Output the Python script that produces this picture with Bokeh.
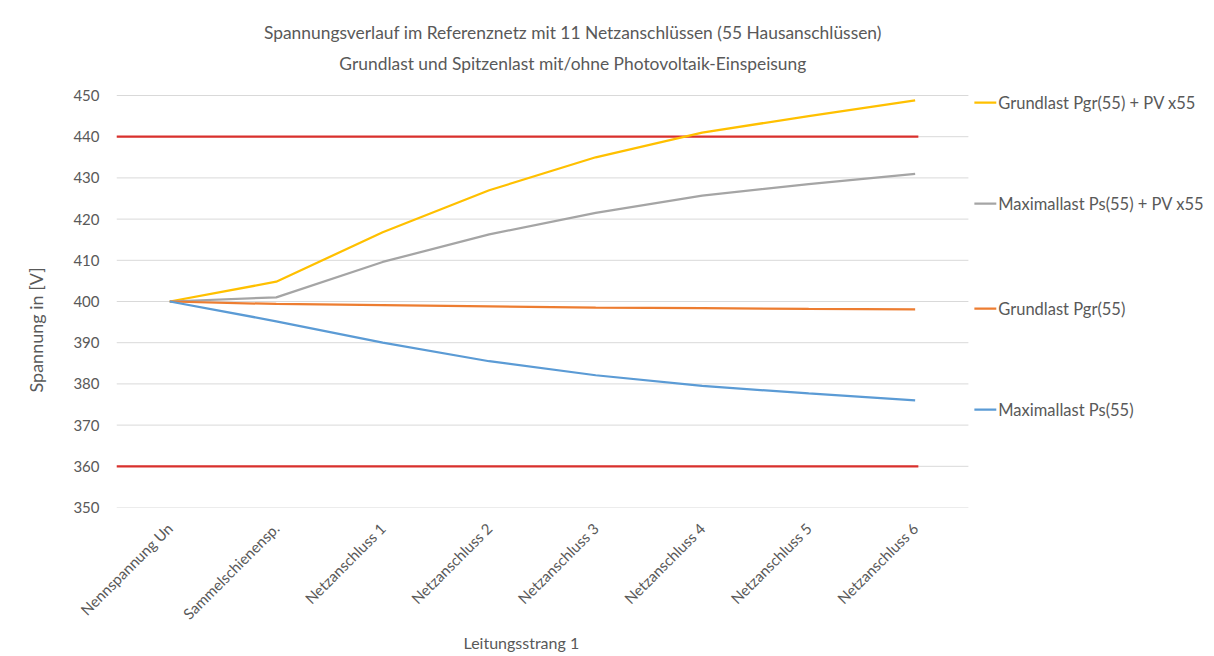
import math
from bokeh.plotting import figure
from bokeh.models import FixedTicker, Range1d, Title
from bokeh.embed import file_html
from bokeh.resources import INLINE
from bokeh.core.properties import value

# ---------------- data ----------------
categories = ["Nennspannung Un", "Sammelschienensp.", "Netzanschluss 1", "Netzanschluss 2",
              "Netzanschluss 3", "Netzanschluss 4", "Netzanschluss 5", "Netzanschluss 6"]
grundlast_pv = [400.0, 404.8, 416.8, 427.0, 435.0, 441.0, 445.0, 448.8]
maximallast_pv = [400.0, 401.0, 409.6, 416.3, 421.5, 425.7, 428.5, 431.0]
grundlast = [400.0, 399.4, 399.1, 398.8, 398.5, 398.4, 398.2, 398.1]
maximallast = [400.0, 395.2, 390.0, 385.5, 382.1, 379.5, 377.7, 376.0]
limit_upper = 440
limit_lower = 360
y_ticks = [350, 360, 370, 380, 390, 400, 410, 420, 430, 440, 450]
series_names = ["Grundlast Pgr(55) + PV x55", "Maximallast Ps(55) + PV x55",
                "Grundlast Pgr(55)", "Maximallast Ps(55)"]
title_lines = ["Spannungsverlauf im Referenznetz mit 11 Netzanschlüssen (55 Hausanschlüssen)",
               "Grundlast und Spitzenlast mit/ohne Photovoltaik-Einspeisung"]
y_label = "Spannung in [V]"
x_label = "Leitungsstrang 1"

# ---------------- styles / layout ----------------
FONT = "Lato"
TXT = "#595959"
GRID = "#d9d9d9"
colors = ["#FFC000", "#A5A5A5", "#ED7D31", "#5B9BD5"]
RED = "#D9302C"

W, H = 1214, 656
FRAME_L, FRAME_B = 112, 507          # frame left / bottom in pixels
UX = 106.875                          # pixels per category
UY = 4.12                             # pixels per volt
n = len(categories)
xs = list(range(n))
y0 = y_ticks[0]
x_end = -0.5 + (W - FRAME_L) / UX
y_end = y0 + FRAME_B / UY

def px_x(sx):
    return -0.5 + (sx - FRAME_L) / UX

def px_y(sy):
    return y0 + (FRAME_B - sy) / UY

p = figure(width=W, height=H, output_backend="svg", toolbar_location=None,
           x_range=Range1d(-0.5, x_end), y_range=Range1d(y0, y_end),
           min_border_left=FRAME_L, min_border_right=0, min_border_top=0,
           min_border_bottom=H - FRAME_B)
p.outline_line_color = None
p.xgrid.visible = False
p.ygrid.visible = False

# horizontal grid lines spanning the category area only
p.segment(x0=[-0.5] * len(y_ticks), x1=[n - 0.5] * len(y_ticks), y0=y_ticks, y1=y_ticks,
          line_color=GRID, line_width=1)

# limit lines
for lim in (limit_upper, limit_lower):
    p.line(x=[-0.5, n - 1 + 0.03], y=[lim, lim], line_color=RED, line_width=2.25)

series = [grundlast_pv, maximallast_pv, grundlast, maximallast]
for s, c in zip(series, colors):
    p.line(x=xs, y=s, line_color=c, line_width=2.25)

# legend (manually positioned as in the reference)
legend_sy = [102, 203, 308, 409]
legend_y = [px_y(v) for v in legend_sy]
sw0, sw1, tx = px_x(973), px_x(995), px_x(997)
for c, ly in zip(colors, legend_y):
    p.line(x=[sw0, sw1], y=[ly, ly], line_color=c, line_width=2.25)
p.text(x=[tx] * 4, y=legend_y, text=series_names, text_font=value(FONT),
       text_font_size="16.5px", text_color=TXT, text_baseline="middle", text_align="left")

# chart title (two lines)
p.text(x=[px_x(570)] * 2, y=[px_y(32), px_y(63)], text=title_lines, text_font=value(FONT),
       text_font_size="17.4px", text_color=TXT, text_baseline="middle", text_align="center")

# axes
p.yaxis.ticker = FixedTicker(ticks=y_ticks)
p.xaxis.ticker = FixedTicker(ticks=xs)
p.xaxis.major_label_overrides = {i: c for i, c in enumerate(categories)}
p.xaxis.major_label_orientation = math.pi / 4
for ax in (p.xaxis, p.yaxis):
    ax.axis_line_color = None
    ax.major_tick_line_color = None
    ax.minor_tick_line_color = None
    ax.major_tick_in = 0
    ax.major_tick_out = 0
    ax.major_label_text_color = TXT
    ax.major_label_text_font = FONT
    ax.major_label_text_font_size = "15px"
p.yaxis.major_label_standoff = 17
p.xaxis.major_label_standoff = 18

# axis titles
p.add_layout(Title(text=y_label, align="left", offset=115, vertical_align="middle",
                   standoff=46, text_font=FONT, text_font_size="18px",
                   text_color=TXT, text_font_style="normal"), "left")
p.add_layout(Title(text=x_label, align="left", offset=347, vertical_align="top",
                   standoff=2, text_font=FONT, text_font_size="16px",
                   text_color=TXT, text_font_style="normal"), "below")

open("out.html", "w").write(file_html(p, INLINE))
